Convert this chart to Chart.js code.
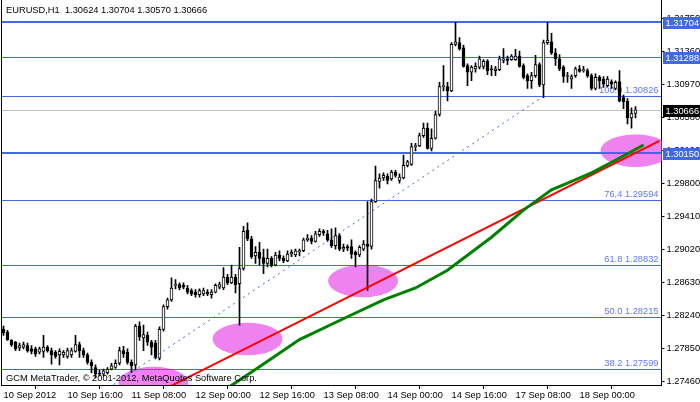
<!DOCTYPE html>
<html>
<head>
<meta charset="utf-8">
<script src="https://cdn.jsdelivr.net/npm/chart.js@4.4.1/dist/chart.umd.min.js"></script>
<style>
html,body{margin:0;padding:0;background:#fff;}
#c{display:block;}
</style>
</head>
<body>
<canvas id="c" width="700" height="402"></canvas>
<script>
// ---- DATA (EURUSD H1) ----
const tradingDays = ['10 Sep','11 Sep','12 Sep','13 Sep','14 Sep','17 Sep','18 Sep'];
const xTickLabels = ['10 Sep 2012','10 Sep 16:00','11 Sep 08:00','12 Sep 00:00','12 Sep 16:00','13 Sep 08:00','14 Sep 00:00','14 Sep 16:00','17 Sep 08:00','18 Sep 00:00'];
const yTicks = [1.27460,1.27850,1.28240,1.28630,1.29020,1.29410,1.29800,1.30190,1.30580,1.30970,1.31360,1.31750];

const open = [
1.2807,1.2804,1.2794,1.2792,1.2785,1.2786,1.2788,1.2784,1.2784,1.2780,
1.2781,1.2786,1.2782,1.2780,1.2777,1.2777,1.2775,1.2777,1.2781,1.2789,
1.2782,1.2777,1.2768,1.2762,1.2755,1.2754,1.2756,1.2760,1.2762,1.2767,
1.2782,1.2780,1.2768,1.2765,1.2811,1.2797,1.2800,1.2792,1.2791,1.2773,
1.2807,1.2834,1.2842,1.2859,1.2860,1.2859,1.2856,1.2853,1.2851,1.2848,
1.2849,1.2851,1.2848,1.2851,1.2857,1.2856,1.2869,1.2862,1.2869,1.2861,
1.2879,1.2924,1.2914,1.2894,1.2898,1.2892,1.2885,1.2891,1.2883,1.2895,
1.2891,1.2888,1.2896,1.2895,1.2899,1.2900,1.2913,1.2915,1.2911,1.2919,
1.2923,1.2920,1.2913,1.2906,1.2918,1.2902,1.2905,1.2905,1.2898,1.2895,
1.2902,1.2908,1.2905,1.2958,1.2982,1.2986,1.2988,1.2985,1.2993,1.2983,
1.2986,1.3001,1.3002,1.3023,1.3024,1.3036,1.3045,1.3021,1.3033,1.3061,
1.3094,1.3094,1.3089,1.3144,1.3146,1.3140,1.3119,1.3111,1.3115,1.3117,
1.3118,1.3124,1.3115,1.3113,1.3114,1.3125,1.3127,1.3126,1.3126,1.3130,
1.3119,1.3107,1.3101,1.3107,1.3120,1.3096,1.3146,1.3147,1.3134,1.3127,
1.3117,1.3106,1.3103,1.3107,1.3115,1.3113,1.3113,1.3107,1.3092,1.3105,
1.3103,1.3095,1.3100,1.3092,1.3100,1.3081,1.3077,1.3057,1.30624];
const high = [
1.2811,1.2806,1.2795,1.2793,1.2791,1.2792,1.2791,1.2788,1.2786,1.2786,
1.2800,1.2788,1.2785,1.2782,1.2784,1.2782,1.2785,1.2785,1.2800,1.2792,
1.2785,1.2779,1.2771,1.2765,1.2759,1.2760,1.2762,1.2767,1.2771,1.2786,
1.2787,1.2784,1.2771,1.2813,1.2816,1.2812,1.2804,1.2794,1.2794,1.2810,
1.2836,1.2844,1.2868,1.2866,1.2862,1.2862,1.2859,1.2855,1.2854,1.2855,
1.2856,1.2854,1.2854,1.2861,1.2863,1.2880,1.2872,1.2883,1.2872,1.2904,
1.2929,1.2933,1.2917,1.2905,1.2910,1.2902,1.2902,1.2893,1.2898,1.2900,
1.2894,1.2900,1.2901,1.2902,1.2902,1.2915,1.2919,1.2918,1.2923,1.2926,
1.2925,1.2924,1.2926,1.2927,1.2920,1.2908,1.2907,1.2913,1.2900,1.2906,
1.2912,1.2958,1.2961,1.3000,1.2991,1.2992,1.2991,1.2995,1.2995,1.2991,
1.3013,1.3007,1.3027,1.3027,1.3039,1.3051,1.3051,1.3044,1.3065,1.3099,
1.3119,1.3099,1.3146,1.3170,1.3152,1.3143,1.3121,1.3119,1.3122,1.3130,
1.3126,1.3126,1.3119,1.3118,1.3130,1.3139,1.3130,1.3132,1.3138,1.3136,
1.3121,1.3109,1.3111,1.3131,1.3122,1.3149,1.3170,1.3157,1.3139,1.3132,
1.3119,1.3111,1.3108,1.3117,1.3119,1.3118,1.3115,1.3109,1.3109,1.3107,
1.3106,1.3106,1.3102,1.3101,1.3113,1.3084,1.3080,1.3069,1.30704];
const low = [
1.2800,1.2794,1.2787,1.2782,1.2782,1.2784,1.2780,1.2778,1.2775,1.2778,
1.2774,1.2780,1.2766,1.2773,1.2765,1.2774,1.2773,1.2774,1.2780,1.2774,
1.2774,1.2766,1.2756,1.2750,1.2752,1.2752,1.2754,1.2759,1.2761,1.2765,
1.2774,1.2766,1.2756,1.2759,1.2794,1.2782,1.2788,1.2777,1.2772,1.2771,
1.2805,1.2831,1.2840,1.2855,1.2854,1.2855,1.2849,1.2847,1.2845,1.2845,
1.2847,1.2847,1.2844,1.2850,1.2855,1.2854,1.2860,1.2861,1.2850,1.2812,
1.2877,1.2912,1.2891,1.2885,1.2883,1.2873,1.2881,1.2881,1.2882,1.2888,
1.2886,1.2887,1.2893,1.2893,1.2894,1.2899,1.2911,1.2908,1.2910,1.2917,
1.2918,1.2911,1.2904,1.2902,1.2900,1.2899,1.2900,1.2891,1.2881,1.2893,
1.2900,1.2853,1.2902,1.2957,1.2974,1.2983,1.2979,1.2983,1.2987,1.2980,
1.2985,1.2999,1.3001,1.3018,1.3023,1.3034,1.3020,1.3018,1.3032,1.3059,
1.3089,1.3077,1.3088,1.3142,1.3137,1.3117,1.3095,1.3101,1.3111,1.3115,
1.3115,1.3108,1.3107,1.3107,1.3113,1.3122,1.3120,1.3125,1.3125,1.3117,
1.3103,1.3092,1.3092,1.3105,1.3094,1.3081,1.3144,1.3132,1.3119,1.3113,
1.3099,1.3099,1.3092,1.3105,1.3111,1.3111,1.3105,1.3090,1.3090,1.3092,
1.3093,1.3094,1.3092,1.3090,1.3076,1.3068,1.3050,1.3045,1.30570];
const close = [
1.2803,1.2795,1.2789,1.2784,1.2788,1.2789,1.2782,1.2781,1.2778,1.2784,
1.2786,1.2782,1.2777,1.2775,1.2781,1.2780,1.2782,1.2782,1.2789,1.2782,
1.2777,1.2768,1.2764,1.2754,1.2754,1.2758,1.2760,1.2764,1.2767,1.2782,
1.2778,1.2768,1.2764,1.2811,1.2798,1.2801,1.2792,1.2786,1.2774,1.2807,
1.2834,1.2842,1.2856,1.2860,1.2856,1.2857,1.2851,1.2849,1.2848,1.2853,
1.2853,1.2849,1.2851,1.2859,1.2860,1.2869,1.2862,1.2869,1.2860,1.2879,
1.2923,1.2914,1.2893,1.2898,1.2891,1.2885,1.2891,1.2883,1.2895,1.2891,
1.2888,1.2896,1.2898,1.2900,1.2900,1.2913,1.2915,1.2911,1.2920,1.2923,
1.2921,1.2913,1.2906,1.2918,1.2902,1.2904,1.2903,1.2896,1.2895,1.2904,
1.2908,1.2905,1.2958,1.2983,1.2986,1.2989,1.2983,1.2993,1.2989,1.2987,
1.3001,1.3005,1.3023,1.3024,1.3036,1.3045,1.3021,1.3033,1.3061,1.3094,
1.3095,1.3089,1.3144,1.3147,1.3139,1.3118,1.3111,1.3117,1.3118,1.3127,
1.3124,1.3113,1.3114,1.3115,1.3127,1.3127,1.3125,1.3130,1.3130,1.3118,
1.3105,1.3101,1.3107,1.3120,1.3096,1.3146,1.3149,1.3134,1.3127,1.3115,
1.3106,1.3107,1.3106,1.3115,1.3112,1.3114,1.3107,1.3092,1.3105,1.3101,
1.3097,1.3103,1.3097,1.3099,1.3077,1.3076,1.3057,1.3062,1.30666];

// indicator / object anchor points: [bar index, price]
const maPoints = [[52,1.2725],[58,1.2744],[64,1.2763],[74,1.2795],[86,1.2822],[95,1.2842],[103,1.2856],[111,1.2877],[122,1.2916],[130,1.2948],[137,1.2972],[141,1.2980],[147,1.2992],[153,1.3007],[160,1.3025]];
const trendPoints = [[30,1.2712],[164,1.3030]];
const fiboBasePoints = [[25,1.2734],[135,1.30826]];

const hLevels = [1.31704, 1.31288, 1.30150];
const fibLabels = ['100.0','76,4','61.8','50.0','38.2'];
const fibPrices = [1.30826, 1.29594, 1.28832, 1.28215, 1.27599];
const bidPrice = 1.30666;
const ellipseBars = [158, 61, 89.9, 37.5];
const ellipsePrices = [1.30183, 1.27957, 1.28643, 1.27437];

const titleText = 'EURUSD,H1  1.30624 1.30704 1.30570 1.30666';
const footerText = 'GCM MetaTrader, \u00A9 2001-2012, MetaQuotes Software Corp.';

// ---- build ----
const NCAT = 165;
const categories = [];
tradingDays.forEach(d => { for (let h = 0; h < 24; h++) categories.push(d + ' ' + String(h).padStart(2,'0') + ':00'); });
categories.length = NCAT;

function sparse(points){ const a = new Array(NCAT).fill(null); points.forEach(([i,v]) => a[i] = v); return a; }

const FONT = "'Liberation Sans', Arial, sans-serif";
const FS = 9.3;
const BLUE = '#4169E1';

const overlay = {
  id: 'overlay',
  beforeDatasetsDraw(chart){
    const {ctx, chartArea: a, scales: {x, y}} = chart;
    ctx.save();
    ctx.beginPath(); ctx.rect(a.left, a.top, a.right - a.left, a.bottom - a.top); ctx.clip();
    // ellipses
    ctx.fillStyle = '#EE82EE';
    ellipseBars.forEach((b, k) => {
      const cx = x.getPixelForValue(b), cy = y.getPixelForValue(ellipsePrices[k]);
      const rx = Math.abs(x.getPixelForValue(b + 8.75) - cx);
      const ry = Math.abs(y.getPixelForValue(ellipsePrices[k] + 0.00192) - cy);
      ctx.beginPath(); ctx.ellipse(cx, cy, rx, ry, 0, 0, Math.PI * 2); ctx.fill();
    });
    // bid line
    ctx.strokeStyle = '#C0C0C0'; ctx.lineWidth = 1;
    let yy = Math.round(y.getPixelForValue(bidPrice)) + 0.5;
    ctx.beginPath(); ctx.moveTo(a.left, yy); ctx.lineTo(a.right, yy); ctx.stroke();
    // fib levels
    ctx.strokeStyle = BLUE; ctx.lineWidth = 1;
    ctx.font = FS + 'px ' + FONT; ctx.textAlign = 'right'; ctx.textBaseline = 'bottom';
    fibPrices.forEach((p, k) => {
      const ly = Math.round(y.getPixelForValue(p)) + 0.5;
      ctx.beginPath(); ctx.moveTo(a.left, ly); ctx.lineTo(a.right, ly); ctx.stroke();
      ctx.fillStyle = '#5f78ee';
      ctx.fillText(fibLabels[k] + ' ' + p.toFixed(5), a.right - 3, ly - 1.5);
    });
    // horizontal lines
    hLevels.forEach((p, k) => {
      const w = (k === 1) ? 1 : 2;
      ctx.lineWidth = w;
      const ly = Math.round(y.getPixelForValue(p)) + (w % 2 ? 0.5 : 0);
      ctx.beginPath(); ctx.moveTo(a.left, ly); ctx.lineTo(a.right, ly); ctx.stroke();
    });
    ctx.restore();
  },
  afterDraw(chart){
    const {ctx, chartArea: a, scales: {y}} = chart;
    ctx.save();
    // left frame
    ctx.strokeStyle = '#000'; ctx.lineWidth = 1;
    ctx.beginPath(); ctx.moveTo(1.5, a.top); ctx.lineTo(1.5, a.bottom); ctx.stroke();
    ctx.font = FS + 'px ' + FONT;
    ctx.textBaseline = 'middle'; ctx.textAlign = 'left';
    // price boxes
    const boxes = hLevels.map(p => [p, BLUE]).concat([[bidPrice, '#000']]);
    boxes.forEach(([p, col]) => {
      const cy = Math.round(y.getPixelForValue(p));
      ctx.fillStyle = col;
      ctx.fillRect(Math.round(a.right) + 1, cy - 5, 700 - Math.round(a.right) - 1, 12);
      ctx.fillStyle = '#fff';
      ctx.fillText(p.toFixed(5), a.right + 4, cy + 1);
    });
    // texts
    ctx.fillStyle = '#000';
    ctx.fillText(titleText, 6, 10);
    ctx.fillText(footerText, 6, 378);
    ctx.restore();
  }
};

function noPad(s){ s.paddingTop = 0; s.paddingBottom = 0; s.paddingLeft = 0; s.paddingRight = 0; }

new Chart(document.getElementById('c'), {
  type: 'bar',
  data: {
    labels: categories,
    datasets: [
      { type: 'line', label: 'MA', data: sparse(maPoints), borderColor: '#008000', borderWidth: 3, pointRadius: 0, spanGaps: true, tension: 0, order: 1 },
      { type: 'line', label: 'Trend', data: sparse(trendPoints), borderColor: '#FF0000', borderWidth: 2, pointRadius: 0, spanGaps: true, tension: 0, order: 1 },
      { type: 'line', label: 'Fibo base', data: sparse(fiboBasePoints), borderColor: BLUE, borderWidth: 1, borderDash: [2, 4], pointRadius: 0, spanGaps: true, tension: 0, order: 1 },
      { type: 'bar', label: 'Body', data: open.map((o, i) => [o, close[i]]),
        backgroundColor: open.map((o, i) => close[i] >= o ? '#FFFFFF' : '#000000'),
        borderColor: '#000', borderWidth: 1, borderSkipped: false, barThickness: 3, minBarLength: 1, grouped: false, order: 2 },
      { type: 'bar', label: 'Wick', data: low.map((l, i) => [l, high[i]]),
        backgroundColor: '#000', borderWidth: 0, barThickness: 1, grouped: false, order: 3 }
    ]
  },
  options: {
    responsive: false, animation: false, devicePixelRatio: 1,
    layout: { padding: { left: 1.5, top: 0, right: 0, bottom: 0 } },
    plugins: { legend: { display: false }, tooltip: { enabled: false } },
    scales: {
      x: {
        type: 'category', offset: true,
        afterFit: s => { s.height = 17; noPad(s); },
        afterBuildTicks: s => { s.ticks = xTickLabels.map((_, k) => ({ value: k * 16 })); },
        ticks: { autoSkip: false, maxRotation: 0, minRotation: 0, align: 'start', padding: 1, color: '#000',
          font: { family: FONT, size: FS }, callback: v => xTickLabels[v / 16] },
        grid: { display: true, drawOnChartArea: false, drawTicks: true, tickLength: 4, color: '#000' },
        border: { display: true, color: '#000' }
      },
      y: {
        type: 'linear', position: 'right', min: 1.27413, max: 1.31964,
        afterFit: s => { s.width = 38.5; noPad(s); },
        afterBuildTicks: s => { s.ticks = yTicks.map(v => ({ value: v })); },
        ticks: { color: '#000', crossAlign: 'near', padding: 2, font: { family: FONT, size: FS }, callback: v => Number(v).toFixed(5) },
        grid: { display: true, drawOnChartArea: false, drawTicks: true, tickLength: 3, color: '#000' },
        border: { display: true, color: '#000' }
      }
    }
  },
  plugins: [overlay]
});
</script>
</body>
</html>
